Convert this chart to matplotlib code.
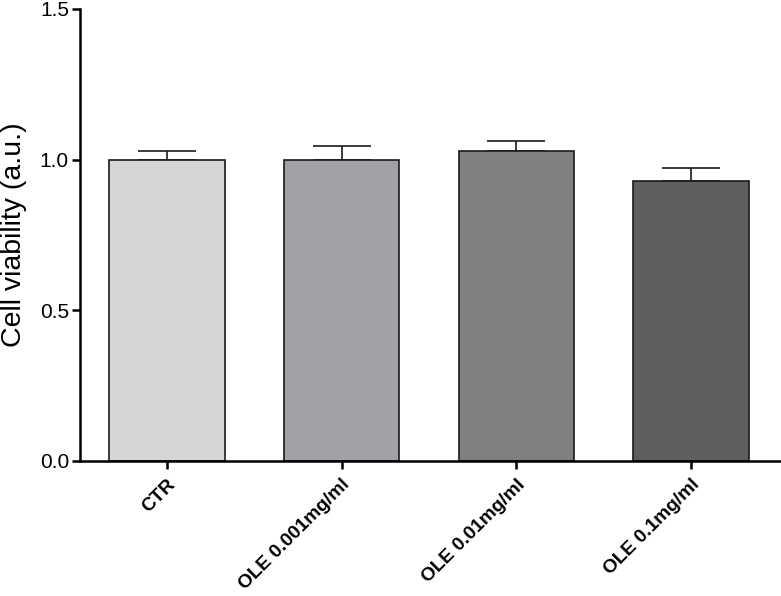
import matplotlib
matplotlib.use("Agg")
import matplotlib.pyplot as plt

groups = ["CTR", "OLE 0.001mg/ml", "OLE 0.01mg/ml", "OLE 0.1mg/ml"]
viability = [0.998, 1.000, 1.030, 0.930]
sem = [0.032, 0.046, 0.033, 0.044]
colors = ["#d6d6d6", "#a2a1a6", "#808080", "#5f5f5f"]

plt.rcParams['font.family'] = ['Liberation Sans', 'DejaVu Sans']

fig = plt.figure(figsize=(7.81, 5.96), dpi=100)
ax = fig.add_axes([80 / 781, 135 / 596, 701 / 781, 452 / 596])

x = list(range(len(groups)))
ax.bar(x, viability, width=0.66, color=colors, edgecolor="#1a1a1a", linewidth=1.2, zorder=2)
# upper error only; lower cap is hidden under the bar edge
ax.errorbar(x, viability, yerr=[[0] * len(sem), sem], fmt="none", ecolor="#1a1a1a",
            elinewidth=1.2, capsize=21, capthick=1.2, zorder=1)

ax.set_xlim(-0.497, 3.514)
ax.set_ylim(0, 1.5)
ax.set_yticks([0.0, 0.5, 1.0, 1.5])
ax.set_yticklabels(["0.0", "0.5", "1.0", "1.5"])
ax.set_xticks(x)
ax.set_xticklabels(groups, rotation=45, ha="right", rotation_mode="anchor",
                   fontsize=13.8, fontweight="bold")
ax.tick_params(axis="y", labelsize=15, width=1.8, length=6, direction="out", pad=2)
ax.tick_params(axis="x", width=1.8, length=6, direction="out", pad=5)
ax.set_ylabel("Cell viability (a.u.)", fontsize=20.5)
ax.yaxis.set_label_coords(-0.075, 0.5)

for side in ["top", "right"]:
    ax.spines[side].set_visible(False)
for side in ["left", "bottom"]:
    ax.spines[side].set_linewidth(1.8)

fig.savefig("out.png", dpi=100)
